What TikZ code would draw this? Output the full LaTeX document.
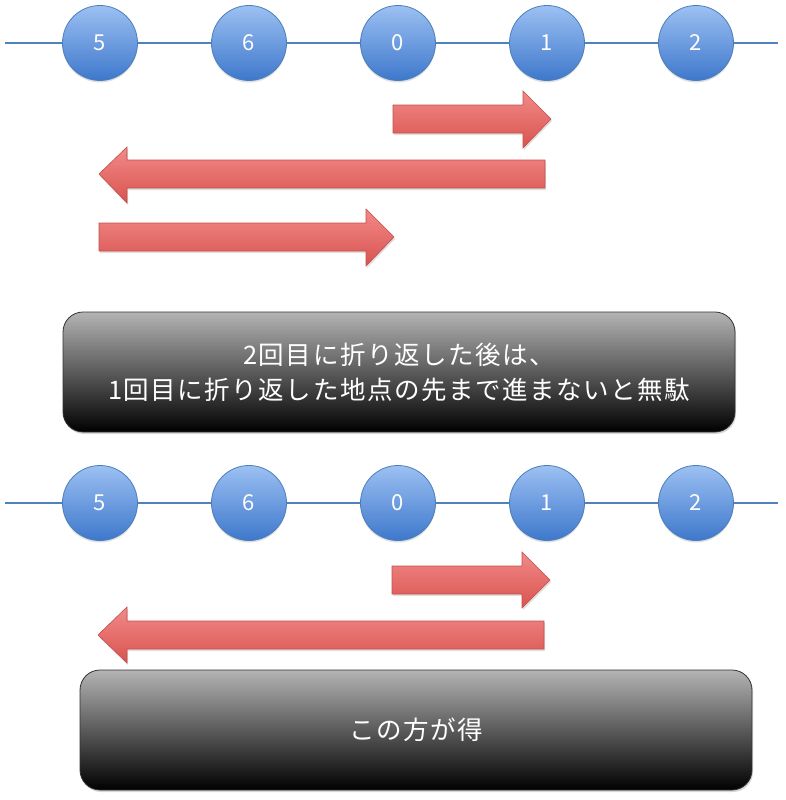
\documentclass[tikz,border=0pt]{standalone}
\usepackage{fontspec}
\newfontfamily\jp[LetterSpace=6]{Noto Sans CJK JP}
\newfontfamily\jpd{Noto Sans CJK JP}
\usetikzlibrary{shadows}
\definecolor{ballTop}{HTML}{9CC0F2}
\definecolor{ballBot}{HTML}{3E78CC}
\definecolor{ballEdge}{HTML}{4A7EBB}
\definecolor{axisCol}{HTML}{4F81BD}
\definecolor{arrTop}{HTML}{F28A88}
\definecolor{arrBot}{HTML}{D9534F}
\definecolor{arrEdge}{HTML}{C0504D}
\definecolor{boxTop}{HTML}{B4B4B4}
\tikzset{
  ball/.style={circle, minimum size=75pt, inner sep=0pt, draw=ballEdge, line width=0.8pt,
    top color=ballTop, bottom color=ballBot, text=white, font=\jpd\fontsize{22}{26}\selectfont,
    drop shadow={opacity=0.25, shadow xshift=0pt, shadow yshift=-2pt}},
  axis/.style={draw=axisCol, line width=2pt},
  bigarrow/.style={draw=arrEdge, line width=0.6pt, top color=arrTop, bottom color=arrBot,
    drop shadow={opacity=0.25, shadow xshift=1pt, shadow yshift=-2pt}},
  msgbox/.style={rounded corners=20pt, minimum width=672pt, minimum height=120pt, draw=black!80,
    line width=0.8pt, top color=boxTop, bottom color=black, text=white, align=center,
    font=\jp\fontsize{25.5}{35}\selectfont,
    drop shadow={opacity=0.3, shadow xshift=1pt, shadow yshift=-2pt}},
}
\begin{document}
\begin{tikzpicture}[x=1pt, y=-1pt]
\useasboundingbox (0,0) rectangle (785,800);
\fill[white] (0,0) rectangle (785,800);

% ---------- top row ----------
\coordinate (L1) at (5,43);
\coordinate (R1) at (778,43);
\node[ball] (a1) at (100,43) {5};
\node[ball] (a2) at (249,43) {6};
\node[ball] (a3) at (398,43) {0};
\node[ball] (a4) at (547,43) {1};
\node[ball] (a5) at (696,43) {2};
\draw[axis] (L1) -- (a1);
\draw[axis] (a1) -- (a2);
\draw[axis] (a2) -- (a3);
\draw[axis] (a3) -- (a4);
\draw[axis] (a4) -- (a5);
\draw[axis] (a5) -- (R1);

\path[bigarrow] (393,105) -- (523,105) -- (523,91) -- (551,119) -- (523,148) -- (523,133) -- (393,133) -- cycle;
\path[bigarrow] (545,160) -- (127,160) -- (127,147) -- (99,174) -- (127,203) -- (127,188) -- (545,188) -- cycle;
\path[bigarrow] (99,223) -- (366,223) -- (366,209) -- (394,237) -- (366,266) -- (366,251) -- (99,251) -- cycle;

\node[msgbox] (m1) at (399,372) {2回目に折り返した後は、\\1回目に折り返した地点の先まで進まないと無駄};

% ---------- bottom row ----------
\coordinate (L2) at (5,503);
\coordinate (R2) at (778,503);
\node[ball] (b1) at (100,503) {5};
\node[ball] (b2) at (249,503) {6};
\node[ball] (b3) at (398,503) {0};
\node[ball] (b4) at (547,503) {1};
\node[ball] (b5) at (696,503) {2};
\draw[axis] (L2) -- (b1);
\draw[axis] (b1) -- (b2);
\draw[axis] (b2) -- (b3);
\draw[axis] (b3) -- (b4);
\draw[axis] (b4) -- (b5);
\draw[axis] (b5) -- (R2);

\path[bigarrow] (392,566) -- (522,566) -- (522,552) -- (550,580) -- (522,608) -- (522,594) -- (392,594) -- cycle;
\path[bigarrow] (544,621) -- (127,621) -- (127,607) -- (98,635) -- (127,663) -- (127,649) -- (544,649) -- cycle;

\node[msgbox] (m2) at (416,730) {この方が得};
\end{tikzpicture}
\end{document}
